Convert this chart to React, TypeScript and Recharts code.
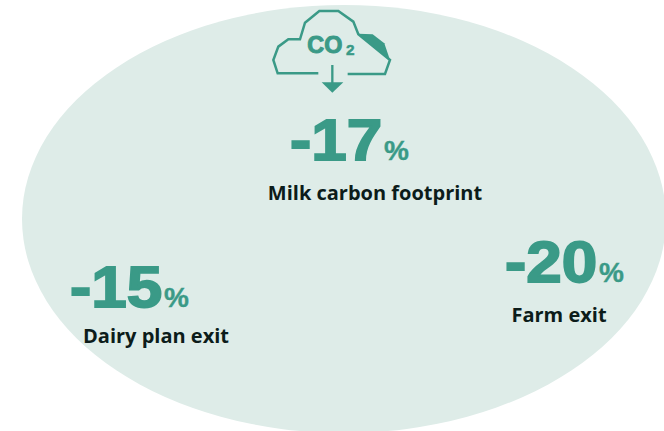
import { ComposedChart, ReferenceArea, ReferenceDot, Scatter, XAxis, YAxis } from 'recharts';

const WIDTH = 664;
const HEIGHT = 431;

const TEAL = '#3a9a87';
const PALE = '#deece8';
const INK = '#0c1c1a';

// Reductions, in percent
const CATEGORIES = ['Milk carbon footprint', 'Dairy plan exit', 'Farm exit'];
const REDUCTIONS = [-17, -15, -20];

// Where each figure starts on the plot, and how far its caption is shifted from there
const FIGURE_X = [290, 70, 505];
const FIGURE_Y = [160, 307, 282];
const CAPTION_DX = [85, 86, 54];
const CAPTION_DY = [40, 36, 40];

const points = CATEGORIES.map((name, i) => ({
  name,
  value: REDUCTIONS[i],
  x: FIGURE_X[i],
  y: FIGURE_Y[i],
  captionDx: CAPTION_DX[i],
  captionDy: CAPTION_DY[i],
}));

const Backdrop = ({ x, y, width, height }: any) => (
  <ellipse cx={x + width / 2} cy={y + height / 2} rx={width / 2} ry={height / 2} fill={PALE} />
);

const Figure = ({ cx, cy, payload }: any) => (
  <g>
    {/* the numerals are set wider and heavier than the plain bold face */}
    <text
      transform={`translate(${cx} ${cy}) scale(1.12 1)`}
      fill={TEAL}
      stroke={TEAL}
      strokeWidth={1.8}
      fontFamily="Liberation Sans"
      fontWeight={700}
      fontSize={57}
    >
      {payload.value}
    </text>
    <text
      x={cx + 94}
      y={cy}
      fill={TEAL}
      stroke={TEAL}
      strokeWidth={0.4}
      fontFamily="Liberation Sans"
      fontWeight={700}
      fontSize={28}
    >
      %
    </text>
    <text
      x={cx + payload.captionDx}
      y={cy + payload.captionDy}
      fill={INK}
      fontFamily="Open Sans"
      fontWeight={700}
      fontSize={20}
      textAnchor="middle"
    >
      {payload.name}
    </text>
  </g>
);

// Cloud with a falling CO2 arrow
const CloudIcon = ({ cx, cy }: any) => (
  <g transform={`translate(${cx} ${cy}) scale(0.3333)`}>
    <path
      d="M205 220 L83 220 L70 180 L85 140 L115 118 L150 118 L165 68 L208 33 L265 33 L310 65 L325 103 L420 180 L405 222 L293 222"
      fill="none"
      stroke={TEAL}
      strokeWidth={7.5}
    />
    <path d="M325 101 L368 103 L403 130 L420 180 Z" fill={TEAL} />
    <text x={172} y={159} fill={TEAL} stroke={TEAL} strokeWidth={3} fontFamily="Liberation Sans" fontWeight={700} fontSize={70}>
      CO
    </text>
    <text x={288} y={166} fill={TEAL} stroke={TEAL} strokeWidth={1.5} fontFamily="Liberation Sans" fontWeight={700} fontSize={46}>
      2
    </text>
    <path d="M247 195 L247 250" stroke={TEAL} strokeWidth={7} />
    <path d="M215 247 L280 247 L247 278 Z" fill={TEAL} />
  </g>
);

export default function App() {
  return (
    <div style={{ position: 'absolute', left: 0, top: 0, width: WIDTH, height: HEIGHT, background: '#fff' }}>
      <ComposedChart width={WIDTH} height={HEIGHT} data={points} margin={{ top: 0, right: 0, bottom: 0, left: 0 }}>
        <XAxis type="number" dataKey="x" domain={[0, WIDTH]} hide />
        <YAxis type="number" dataKey="y" domain={[0, HEIGHT]} reversed hide />
        <ReferenceArea x1={22} x2={WIDTH + 2} y1={5} y2={HEIGHT + 2} ifOverflow="visible" shape={<Backdrop />} />
        <ReferenceDot x={250} y={0} ifOverflow="visible" shape={<CloudIcon />} />
        <Scatter data={points} dataKey="y" shape={<Figure />} isAnimationActive={false} />
      </ComposedChart>
    </div>
  );
}
